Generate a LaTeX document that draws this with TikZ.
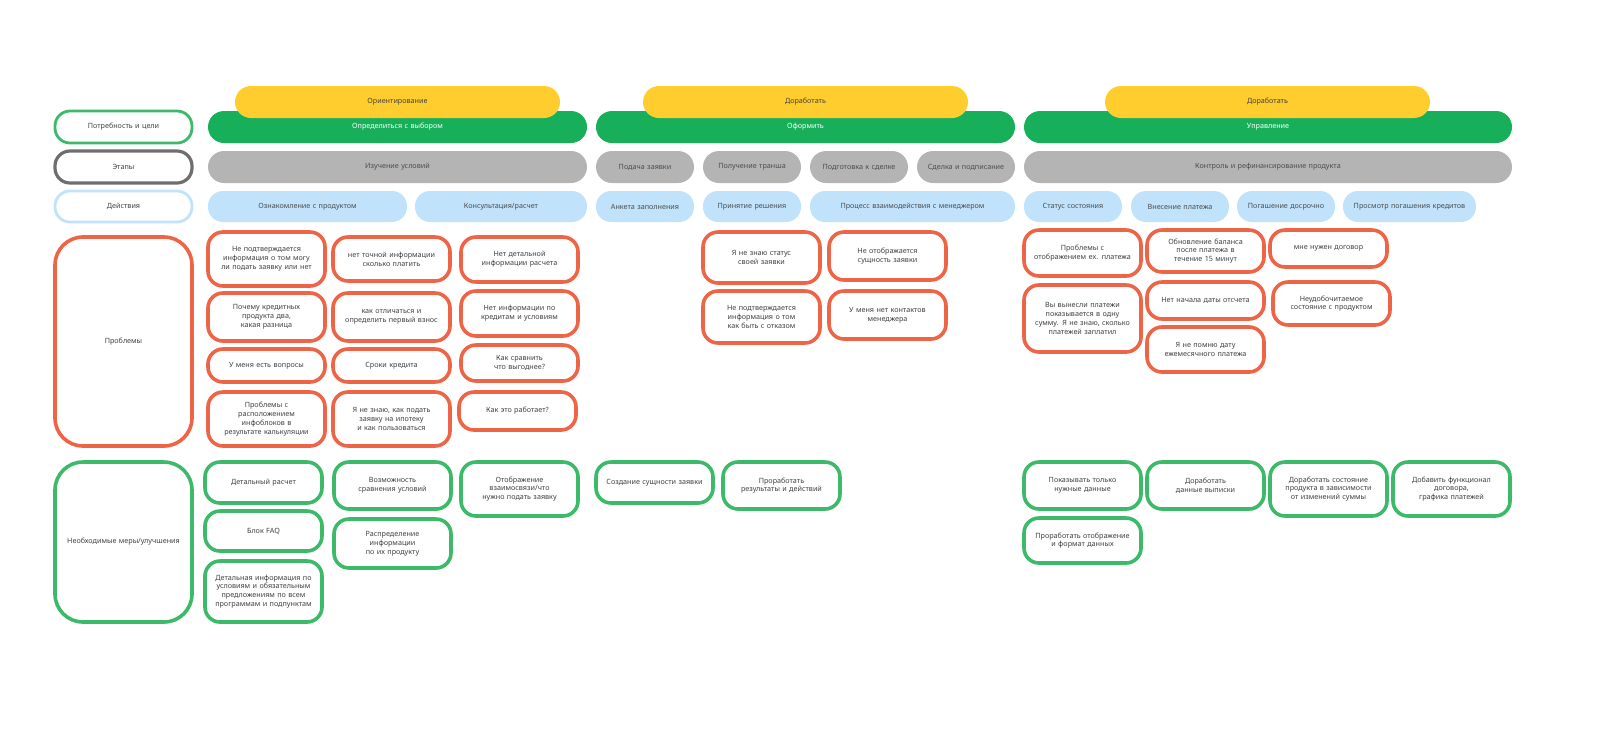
\documentclass[tikz,border=0pt]{standalone}
\usepackage{fontspec}
\setmainfont{Noto Sans}
\definecolor{cred}{RGB}{238,100,70}
\definecolor{cgreen}{RGB}{60,185,105}
\definecolor{bgreen}{RGB}{24,175,90}
\definecolor{cyel}{RGB}{255,205,45}
\definecolor{cgrey}{RGB}{180,180,180}
\definecolor{cblue}{RGB}{192,226,250}
\definecolor{cdark}{RGB}{110,110,110}
\tikzset{
 base/.style={inner sep=0pt,align=center,font=\fontsize{3.6}{4.4}\selectfont,text=black!75},
 red/.style={base,draw=cred,line width=1.8pt,rounded corners=7.5pt,fill=white},
 grn/.style={base,draw=cgreen,line width=1.8pt,rounded corners=7.5pt,fill=white},
 yel/.style={base,fill=cyel,rounded corners=8pt},
 bar/.style={base,fill=bgreen,rounded corners=8pt,text=white},
 gry/.style={base,fill=cgrey,rounded corners=8pt,text=black!70},
 blu/.style={base,fill=cblue,rounded corners=7.5pt,text=black!70},
 lgrn/.style={base,draw=cgreen,line width=1.4pt,rounded corners=7.5pt},
 lgry/.style={base,draw=cdark,line width=1.6pt,rounded corners=7.5pt},
 lblu/.style={base,draw=cblue,line width=1.4pt,rounded corners=7.5pt},
 lred/.style={base,draw=cred,line width=1.8pt,rounded corners=14pt},
 lgrn2/.style={base,draw=cgreen,line width=1.8pt,rounded corners=14pt},
}
\newcommand\bx[7]{%
 \pgfmathsetmacro\bw{(#4-#2)*0.5}\pgfmathsetmacro\bh{(#5-#3)*0.5}\pgfmathsetmacro\tw{max((#4-#2)*0.5-10,10)}%
 \node[#1,minimum width=\bw pt,minimum height=\bh pt,text width=\tw pt] (#7) at ({(#2+#4)/2},{(#3+#5)/2}) {#6};}
\begin{document}
\begin{tikzpicture}[x=0.5pt,y=-0.5pt]
\useasboundingbox (0,0) rectangle (1600,736);
% left labels
\bx{lgrn}{55}{111}{192}{143}{Потребность и цели}{l1}
\bx{lgry}{55}{151}{192}{183}{Этапы}{l2}
\bx{lblu}{55}{191}{192}{222}{Действия}{l3}
\bx{lred}{55}{237}{192}{446}{Проблемы}{l4}
\bx{lgrn2}{55}{462}{192}{622}{Необходимые меры/улучшения}{l5}
% green bars
\bx{bar}{208}{111}{587}{143}{Определиться с выбором}{g1}
\bx{bar}{596}{111}{1015}{143}{Оформить}{g2}
\bx{bar}{1024}{111}{1512}{143}{Управление}{g3}
% yellow
\bx{yel}{235}{86}{560}{118}{Ориентирование}{y1}
\bx{yel}{643}{86}{968}{118}{Доработать}{y2}
\bx{yel}{1105}{86}{1430}{118}{Доработать}{y3}
% grey
\bx{gry}{208}{151}{587}{183}{Изучение условий}{s1}
\bx{gry}{596}{151}{694}{183}{Подача заявки}{s2}
\bx{gry}{703}{151}{801}{183}{Получение транша}{s3}
\bx{gry}{810}{151}{908}{183}{Подготовка к сделке}{s4}
\bx{gry}{917}{151}{1015}{183}{Сделка и подписание}{s5}
\bx{gry}{1024}{151}{1512}{183}{Контроль и рефинансирование продукта}{s6}
% blue
\bx{blu}{208}{191}{407}{222}{Ознакомление с продуктом}{a1}
\bx{blu}{415}{191}{587}{222}{Консультация/расчет}{a2}
\bx{blu}{596}{191}{694}{222}{Анкета заполнения}{a3}
\bx{blu}{703}{191}{801}{222}{Принятие решения}{a4}
\bx{blu}{810}{191}{1015}{222}{Процесс взаимодействия с менеджером}{a5}
\bx{blu}{1024}{191}{1122}{222}{Статус состояния}{a6}
\bx{blu}{1131}{191}{1229}{222}{Внесение платежа}{a7}
\bx{blu}{1237}{191}{1335}{222}{Погашение досрочно}{a8}
\bx{blu}{1343}{191}{1476}{222}{Просмотр погашения кредитов}{a9}
% problems
\bx{red}{208}{232}{325}{286}{Не подтверждается информация о том могу ли подать заявку или нет}{p1}
\bx{red}{208}{293}{325}{341}{Почему кредитных продукта два, какая разница}{p2}
\bx{red}{208}{349}{325}{382}{У меня есть вопросы}{p3}
\bx{red}{208}{392}{325}{446}{Проблемы с расположением инфоблоков в результате калькуляции}{p4}
\bx{red}{333}{237}{450}{281}{нет точной информации сколько платить}{p5}
\bx{red}{333}{293}{450}{341}{как отличаться и определить первый взнос}{p6}
\bx{red}{333}{349}{450}{382}{Сроки кредита}{p7}
\bx{red}{333}{392}{450}{446}{Я не знаю, как подать заявку на ипотеку и как пользоваться}{p8}
\bx{red}{461}{237}{578}{282}{Нет детальной информации расчета}{p9}
\bx{red}{461}{291}{578}{336}{Нет информации по кредитам и условиям}{p10}
\bx{red}{461}{345}{578}{381}{Как сравнить что выгоднее?}{p11}
\bx{red}{459}{392}{576}{430}{Как это работает?}{p12}
\bx{red}{703}{232}{820}{283}{Я не знаю статус своей заявки}{p13}
\bx{red}{829}{232}{946}{280}{Не отображается сущность заявки}{p14}
\bx{red}{703}{291}{820}{343}{Не подтверждается информация о том как быть с отказом}{p15}
\bx{red}{829}{291}{946}{339}{У меня нет контактов менеджера}{p16}
\bx{red}{1024}{230}{1141}{276}{Проблемы с отображением ex. платежа}{p17}
\bx{red}{1147}{230}{1264}{272}{Обновление баланса после платежа в течение 15 минут}{p18}
\bx{red}{1270}{230}{1387}{267}{мне нужен договор}{p19}
\bx{red}{1024}{285}{1141}{352}{Вы вынесли платежи показывается в одну сумму. Я не знаю, сколько платежей заплатил}{p20}
\bx{red}{1147}{282}{1264}{319}{Нет начала даты отсчета}{p21}
\bx{red}{1147}{327}{1264}{372}{Я не помню дату ежемесячного платежа}{p22}
\bx{red}{1273}{282}{1390}{325}{Неудобочитаемое состояние с продуктом}{p23}
% improvements
\bx{grn}{205}{462}{322}{503}{Детальный расчет}{m1}
\bx{grn}{205}{511}{322}{551}{Блок FAQ}{m2}
\bx{grn}{205}{561}{322}{622}{Детальная информация по условиям и обязательным предложениям по всем программам и подпунктам}{m3}
\bx{grn}{334}{462}{451}{509}{Возможность сравнения условий}{m4}
\bx{grn}{334}{519}{451}{568}{Распределение информации по их продукту}{m5}
\bx{grn}{461}{462}{578}{516}{Отображение взаимосвязи/что нужно подать заявку}{m6}
\bx{grn}{596}{462}{713}{503}{Создание сущности заявки}{m7}
\bx{grn}{723}{462}{840}{509}{Проработать результаты и действий}{m8}
\bx{grn}{1024}{462}{1141}{509}{Показывать только нужные данные}{m9}
\bx{grn}{1147}{462}{1264}{509}{Доработать данные выписки}{m10}
\bx{grn}{1270}{462}{1387}{516}{Доработать состояние продукта в зависимости от изменений суммы}{m11}
\bx{grn}{1393}{462}{1510}{516}{Добавить функционал договора, графика платежей}{m12}
\bx{grn}{1024}{518}{1141}{563}{Проработать отображение и формат данных}{m13}
\end{tikzpicture}
\end{document}
